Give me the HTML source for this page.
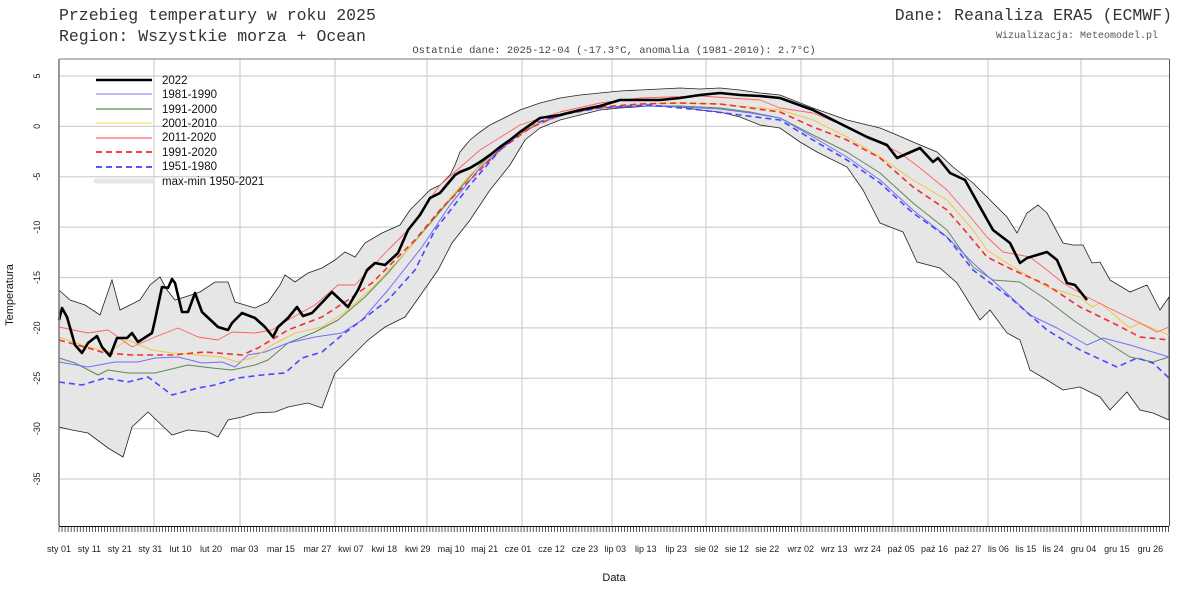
<!DOCTYPE html>
<html><head><meta charset="utf-8"><style>
html,body{margin:0;padding:0;background:#fff;}
svg{display:block;}
.m{font-family:"Liberation Mono",monospace;}
.s{font-family:"Liberation Sans",sans-serif;}
</style></head><body>
<svg id="c" width="1200" height="600" viewBox="0 0 1200 600" xmlns="http://www.w3.org/2000/svg">
<rect width="1200" height="600" fill="#fff"/>
<text x="59" y="20" class="m" font-size="16.5" fill="#333">Przebieg temperatury w roku 2025</text>
<text x="59" y="41" class="m" font-size="16.5" fill="#333">Region: Wszystkie morza + Ocean</text>
<text x="1172" y="20" class="m" font-size="16.5" fill="#333" text-anchor="end">Dane: Reanaliza ERA5 (ECMWF)</text>
<text x="1158" y="38" class="m" font-size="10" fill="#555" text-anchor="end">Wizualizacja: Meteomodel.pl</text>
<text x="614" y="53" class="m" font-size="10.5" fill="#444" text-anchor="middle">Ostatnie dane: 2025-12-04 (-17.3°C, anomalia (1981-2010): 2.7°C)</text>
<g id="grid" stroke="#d0d0d0" stroke-width="1.2"></g>
<polygon id="env" fill="#e6e6e6" stroke="#222" stroke-width="0.8"/>
<g id="series" fill="none"></g>
<line x1="59" y1="59" x2="1169" y2="59" stroke="#777" stroke-width="1"/>
<line x1="59" y1="59" x2="59" y2="526" stroke="#777" stroke-width="1.5"/>
<line x1="1169.5" y1="59" x2="1169.5" y2="526" stroke="#555" stroke-width="1"/>
<line x1="59" y1="526.5" x2="1169" y2="526.5" stroke="#111" stroke-width="1"/>
<path id="ticks" stroke="#333" stroke-width="0.8"/>
<g id="xl" class="s" font-size="9" fill="#222" text-anchor="middle"></g>
<g id="yl" class="s" font-size="9" fill="#222" text-anchor="middle"></g>
<text transform="translate(13,295) rotate(-90)" class="s" font-size="11" text-anchor="middle" fill="#111">Temperatura</text>
<text x="614" y="581" class="s" font-size="11" text-anchor="middle" fill="#111">Data</text>
<g class="s" font-size="11.5" fill="#111">
<line x1="96" y1="80" x2="152" y2="80" stroke="#000" stroke-width="2.5"/><text x="162" y="84">2022</text>
<line x1="96" y1="94" x2="152" y2="94" stroke="#7777ff" stroke-width="1"/><text x="162" y="98">1981-1990</text>
<line x1="96" y1="109" x2="152" y2="109" stroke="#2e6b2e" stroke-width="1"/><text x="162" y="113">1991-2000</text>
<line x1="96" y1="123" x2="152" y2="123" stroke="#ffe680" stroke-width="1.5"/><text x="162" y="127">2001-2010</text>
<line x1="96" y1="138" x2="152" y2="138" stroke="#ff4444" stroke-width="1"/><text x="162" y="141">2011-2020</text>
<line x1="96" y1="152" x2="152" y2="152" stroke="#f00" stroke-width="1.5" stroke-dasharray="6,4"/><text x="162" y="156">1991-2020</text>
<line x1="96" y1="167" x2="152" y2="167" stroke="#22f" stroke-width="1.5" stroke-dasharray="6,4"/><text x="162" y="170">1951-1980</text>
<line x1="96" y1="181" x2="152" y2="181" stroke="#e6e6e6" stroke-width="5" stroke-linecap="round"/><text x="162" y="185">max-min 1950-2021</text>
</g>
</svg>
<script>
var NS="http://www.w3.org/2000/svg";
function el(t,a,p){var e=document.createElementNS(NS,t);for(var k in a)e.setAttribute(k,a[k]);p.appendChild(e);return e;}
var g=document.getElementById('grid');
[154,240,335,427,522,612,706,801,893,988,1081].forEach(function(x){el('line',{x1:x,y1:59,x2:x,y2:526},g);});
var yl=document.getElementById('yl');
for(var t=5;t>=-35;t-=5){var y=126.4-10.075*t;el('line',{x1:59,y1:y,x2:1169,y2:y},g);
 var tx=el('text',{transform:'translate(40,'+y+') rotate(-90)'},yl);tx.textContent=t;}
var d="";for(var i=0;i<=365;i++){var x=(59+3.04*i).toFixed(1);d+="M"+x+" 527V532";}
document.getElementById('ticks').setAttribute('d',d);
var labs=[["sty 01",0],["sty 11",10],["sty 21",20],["sty 31",30],["lut 10",40],["lut 20",50],["mar 03",61],["mar 15",73],["mar 27",85],["kwi 07",96],["kwi 18",107],["kwi 29",118],["maj 10",129],["maj 21",140],["cze 01",151],["cze 12",162],["cze 23",173],["lip 03",183],["lip 13",193],["lip 23",203],["sie 02",213],["sie 12",223],["sie 22",233],["wrz 02",244],["wrz 13",255],["wrz 24",266],["paź 05",277],["paź 16",288],["paź 27",299],["lis 06",309],["lis 15",318],["lis 24",327],["gru 04",337],["gru 15",348],["gru 26",359]];
var xl=document.getElementById('xl');
labs.forEach(function(l){var tx=el('text',{x:59+3.04*l[1],y:552},xl);tx.textContent=l[0];});
var mx=[59,290,70,300,85,305,100,315,112,280,120,310,130,305,140,300,150,285,160,277,167,290,175,300,185,297,200,292,215,282,228,282,235,302,255,308,268,302,280,285,285,275,295,282,308,273,322,268,335,260,345,252,355,257,365,243,382,233,400,225,410,210,420,200,430,190,440,185,450,175,455,165,460,152,470,140,480,132,490,125,500,120,510,115,520,110,540,103,560,98,580,95,600,93,620,91,640,90,660,89,680,88,700,89,720,88,740,90,760,93,780,95,813,108,847,120,880,128,897,135,913,142,937,152,953,167,973,183,990,200,1007,217,1017,233,1027,213,1038,205,1047,213,1063,243,1073,245,1083,245,1092,263,1100,262,1110,280,1130,292,1147,285,1160,310,1169,297];
var mn=[59,427,72,430,88,433,108,448,123,457,132,427,148,412,172,435,188,430,208,432,218,437,228,420,242,417,255,413,275,412,288,407,308,403,322,408,335,373,345,363,355,353,368,340,385,327,405,317,422,293,438,270,452,243,470,220,490,190,510,165,525,140,540,128,560,120,580,115,600,110,620,108,650,106,680,107,700,110,720,112,740,117,760,125,780,128,800,142,817,152,847,167,863,190,880,223,903,232,917,262,940,268,957,283,980,320,990,310,1007,333,1020,340,1030,370,1047,380,1063,390,1080,387,1100,397,1110,410,1127,392,1140,410,1153,413,1169,420];
function pts(a){var s=[];for(var i=0;i<a.length;i+=2)s.push(a[i]+","+a[i+1]);return s;}
var p=pts(mx).concat(pts(mn).reverse());
document.getElementById('env').setAttribute('points',p.join(" "));
var S=document.getElementById('series');
function line(a,c,w,dash){var o={points:pts(a).join(" "),stroke:c,"stroke-width":w,"stroke-linejoin":"round"};if(dash)o["stroke-dasharray"]=dash;el('polyline',o,S);}
line([59,358,75,363,98,375,108,370,128,373,155,373,188,365,212,368,232,370,255,365,268,360,288,343,315,332,338,320,365,297,388,273,422,233,450,200,480,165,510,140,540,122,570,113,600,108,640,106,680,106,720,108,750,112,780,118,813,135,847,152,880,173,913,203,947,230,973,267,993,280,1020,282,1047,300,1073,320,1100,338,1130,357,1153,362,1169,357],"#5a8a5a",1);
line([59,362,88,367,115,362,138,362,155,358,178,357,202,363,222,362,235,367,248,355,265,352,288,343,315,337,342,333,362,320,388,290,422,247,450,205,480,168,510,140,540,123,570,113,600,108,640,106,680,107,720,109,750,113,780,118,813,137,847,157,880,180,913,210,947,237,973,263,1000,287,1030,315,1057,328,1087,345,1103,338,1130,345,1169,357],"#6f6fff",1);
line([59,337,82,345,108,352,128,340,152,350,172,353,198,355,222,357,237,362,255,357,272,345,295,333,322,327,345,312,372,288,405,253,440,210,470,175,500,148,530,127,560,115,600,108,640,104,680,103,720,104,750,107,780,110,813,120,847,137,880,157,913,180,947,200,973,230,987,250,1013,267,1047,287,1080,297,1092,307,1100,303,1130,328,1140,323,1169,335],"#f0c840",1);
line([59,327,88,333,108,330,132,347,155,337,178,328,198,337,218,340,232,332,255,333,272,330,288,320,315,305,338,285,355,285,372,267,388,250,408,230,440,185,480,150,520,125,560,112,600,103,640,98,700,96,760,100,780,108,813,113,847,127,880,143,900,153,920,168,947,190,967,213,987,237,1003,252,1030,257,1047,270,1063,283,1087,297,1113,310,1140,323,1157,332,1169,327],"#ff6060",0.9);
line([59,340,88,348,105,353,132,355,172,355,205,352,242,355,258,348,288,330,322,317,348,300,372,283,415,240,440,210,470,180,500,150,530,128,560,115,600,107,640,104,680,103,720,104,750,108,780,112,813,127,847,140,880,158,913,187,947,210,967,233,987,257,1013,270,1047,285,1080,307,1113,323,1140,337,1169,340],"#f03030",1.6,"6,4");
line([59,382,82,385,105,378,128,382,148,377,172,395,198,388,215,385,238,378,262,375,285,373,302,358,322,352,342,335,362,320,388,300,415,270,435,230,470,185,500,150,530,125,560,115,600,108,650,105,700,110,740,115,780,120,813,140,847,160,880,183,913,213,947,237,973,270,1013,300,1047,330,1080,350,1117,367,1137,358,1153,363,1169,378],"#4848ff",1.6,"6,4");
line([59,320,62,308,67,317,75,345,82,353,88,343,97,336,102,347,110,356,117,338,127,338,132,333,138,342,152,333,155,320,162,287,168,288,172,279,175,283,182,312,188,312,195,293,202,312,218,327,228,330,232,323,242,313,255,318,265,327,273,337,278,327,288,318,297,307,303,316,312,313,332,292,348,307,358,290,367,270,375,263,385,265,398,253,408,230,420,215,430,198,440,193,455,175,460,172,470,168,480,162,490,155,500,147,510,140,520,132,530,125,540,118,560,115,580,110,600,106,620,100,640,100,660,100,680,98,700,95,720,93,740,95,760,96,780,98,813,110,847,127,867,137,887,145,897,158,920,148,933,162,938,158,950,173,965,180,980,207,993,230,1010,243,1020,263,1027,258,1047,252,1057,260,1067,283,1075,285,1087,300],"#000",2.6);
</script>
</body></html>
